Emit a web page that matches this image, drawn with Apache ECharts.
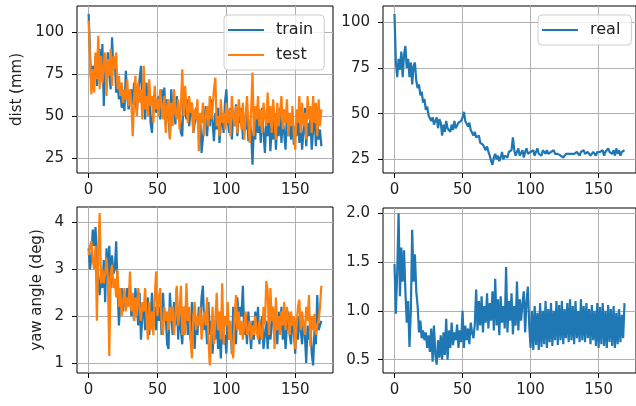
<!DOCTYPE html>
<html>
<head>
<meta charset="utf-8">
<script src="https://cdn.jsdelivr.net/npm/echarts@6/dist/echarts.min.js"></script>
<style>
  html, body { margin: 0; padding: 0; background: #fff; }
  #main { width: 636px; height: 406px; }
</style>
</head>
<body>
<div id="main"></div>
<script>
// tick labels
const xTicks = [0, 50, 100, 150];
const distTicks = [25, 50, 75, 100];
const yawTicks = [1, 2, 3, 4];
const realYawTicks = [0.5, 1.0, 1.5, 2.0];

// dist (mm), one value per step 0..169
const trainDist = [
  111, 88, 66, 80, 72, 86, 68, 78, 90, 74,
  93, 56, 82, 70, 88, 75, 66, 97, 78, 84,
  64, 70, 60, 66, 55, 58, 53, 77, 62, 54,
  55, 66, 57, 70, 60, 52, 64, 72, 80, 56,
  62, 48, 70, 55, 66, 46, 40, 58, 64, 52,
  57, 62, 48, 66, 55, 67, 44, 60, 50, 37,
  66, 52, 58, 45, 62, 50, 55, 40, 38, 64,
  55, 48, 60, 44, 52, 58, 40, 46, 55, 48,
  42, 50, 28, 27, 46, 56, 38, 50, 44, 60,
  46, 35, 52, 42, 55, 34, 45, 50, 40, 58,
  66, 48, 40, 55, 36, 52, 44, 57, 38, 50,
  46, 55, 36, 48, 42, 52, 35, 47, 40, 21,
  44, 36, 52, 40, 48, 34, 55, 40, 28, 46,
  38, 50, 29, 44, 36, 52, 30, 46, 38, 55,
  34, 48, 40, 30, 52, 38, 45, 36, 50, 33,
  44, 38, 52, 34, 46, 30, 40, 55, 32, 46,
  38, 48, 30, 42, 54, 32, 46, 36, 42, 32
];
const testDist = [
  107, 84, 63, 78, 64, 88, 72, 98, 66, 86,
  70, 80, 88, 62, 84, 74, 90, 68, 86, 78,
  88, 66, 74, 62, 70, 58, 66, 60, 72, 56,
  66, 58, 38, 60, 74, 50, 70, 58, 66, 48,
  80, 54, 62, 50, 72, 56, 62, 46, 68, 54,
  60, 50, 66, 56, 48, 62, 40, 56, 60, 36,
  58, 44, 66, 52, 48, 60, 42, 56, 78, 50,
  68, 56, 46, 62, 52, 58, 40, 54, 48, 60,
  29, 52, 46, 58, 38, 50, 56, 44, 62, 48,
  54, 66, 73, 44, 50, 38, 60, 46, 52, 42,
  58, 46, 54, 38, 62, 50, 44, 56, 40, 60,
  52, 42, 58, 36, 50, 62, 46, 34, 54, 76,
  38, 56, 48, 62, 44, 54, 40, 58, 50, 44,
  64, 46, 56, 40, 60, 48, 36, 58, 44, 52,
  62, 42, 54, 46, 60, 38, 52, 44, 56, 40,
  30, 54, 46, 62, 40, 58, 44, 52, 36, 62,
  48, 56, 40, 62, 46, 58, 38, 60, 44, 54
];
const realDist = [
  104.5, 78, 70, 80, 74, 84, 70, 82, 87, 75,
  80, 70, 78, 66, 76, 78, 68, 64, 66, 60,
  62, 56, 58, 52, 54, 49, 50, 46, 48, 44,
  46, 48, 42, 47, 45, 38, 44, 40, 46, 42,
  43, 40, 44, 41, 46, 42, 43, 45, 44, 46,
  48, 51, 46, 47, 43, 45, 41, 42, 38, 40,
  37, 36, 38, 34, 35, 33, 34, 30, 32, 29,
  27, 24, 22, 26, 28, 25, 27, 24, 26, 29,
  25, 27, 28, 26, 29, 28, 30, 37, 30, 27,
  29, 31, 27, 28, 30, 26, 29, 31, 28, 27,
  29, 28, 30, 27, 29, 31, 28, 29, 27, 30,
  29, 28, 30, 28, 27, 29, 28, 30, 28, 29,
  28, 29, 27, 28, 26, 27, 28, 29, 28, 27,
  28, 29, 28, 27, 29, 28, 27, 29, 28, 30,
  28, 27, 29, 28, 27, 28, 29, 28, 27, 29,
  28, 29, 28, 30, 27, 29, 28, 31, 29, 30,
  28, 30, 27, 31, 28, 30, 27, 29, 28, 30
];

// yaw angle (deg)
const trainYaw = [
  3.45, 3.0, 3.3, 3.85, 3.5, 3.9, 3.2, 2.8, 2.45, 2.9,
  2.6, 3.2, 2.3, 3.45, 2.8, 3.5, 2.6, 3.3, 2.9, 3.0,
  3.6, 2.6, 1.8, 2.3, 2.6, 2.1, 2.5, 2.2, 2.6, 2.3,
  2.65, 2.0, 2.4, 1.9, 2.6, 2.2, 1.8, 2.5, 1.5, 2.0,
  2.3, 1.7, 2.1, 2.4, 1.6, 2.0, 2.5, 1.8, 2.2, 1.7,
  2.4, 1.9, 2.2, 1.6, 2.5, 1.9, 2.0, 1.4, 1.3, 2.5,
  2.0, 1.6, 2.3, 1.8, 2.6, 1.5, 2.1, 1.7, 1.4, 2.2,
  1.8, 2.4, 1.6, 2.0, 1.5, 2.3, 1.9, 1.3, 2.0, 1.6,
  2.2, 1.8, 2.4, 2.65, 1.7, 2.0, 1.4, 2.3, 1.6, 1.9,
  1.2, 1.8, 1.5, 2.1, 1.3, 1.7, 1.1, 1.9, 1.4, 1.6,
  1.2, 2.0, 1.5, 1.8, 1.2, 2.2, 1.7, 1.4, 2.4, 1.8,
  2.2, 2.0, 2.65, 1.6, 1.9, 1.4, 2.1, 1.7, 1.3, 1.9,
  1.5, 2.1, 1.7, 2.2, 1.4, 1.8, 2.0, 1.3, 1.6, 1.9,
  1.3, 2.0, 1.5, 1.8, 2.2, 1.6, 1.9, 1.4, 2.1, 1.7,
  2.2, 1.5, 1.9, 1.3, 1.8, 2.1, 1.6, 1.4, 2.0, 1.7,
  1.2, 1.9, 1.5, 2.0, 1.7, 1.4, 1.9, 1.6, 1.0, 1.8,
  1.5, 1.9, 1.2, 0.95, 1.7, 1.4, 2.45, 1.7, 1.8, 1.9
];
const testYaw = [
  3.3, 3.5, 3.6, 3.2, 3.0, 3.5, 1.9, 3.4, 4.2, 2.7,
  3.0, 2.7, 2.9, 3.25, 2.8, 1.15, 2.9, 3.1, 2.6, 2.8,
  2.4, 3.0, 2.2, 2.6, 2.0, 2.3, 2.6, 2.1, 2.4, 2.2,
  2.95, 2.1, 2.5, 1.9, 2.4, 2.0, 2.6, 2.2, 1.9, 2.3,
  2.1, 2.6, 2.0, 1.5, 2.3, 1.7, 2.1, 1.6, 2.4, 2.95,
  2.0, 2.4, 2.6, 1.8, 1.6, 2.2, 1.9, 2.1, 1.7, 2.2,
  1.9, 2.2, 1.6, 2.0, 2.65, 1.8, 2.1, 2.65, 1.6, 2.2,
  1.6, 2.7, 1.9, 2.2, 1.5, 1.1, 2.0, 2.3, 1.7, 2.0,
  1.8, 2.2, 1.5, 1.9, 2.1, 1.8, 2.4, 1.5, 0.95, 1.6,
  2.2, 1.4, 1.9, 2.5, 1.7, 2.1, 1.5, 2.7, 1.4, 2.0,
  1.8, 2.3, 1.5, 1.9, 1.3, 1.1, 2.0, 2.45, 1.7, 2.1,
  1.6, 1.9, 1.5, 1.8, 2.1, 1.6, 1.7, 1.9, 1.5, 1.8,
  1.6, 2.0, 1.7, 1.5, 1.9, 1.6, 1.5, 2.2, 1.8, 2.75,
  2.55, 1.6, 2.6, 1.9, 2.2, 1.3, 2.4, 1.7, 2.0, 1.6,
  2.1, 1.8, 2.3, 1.7, 2.2, 1.9, 1.6, 2.1, 1.8, 2.0,
  1.3, 1.8, 2.2, 2.35, 1.7, 2.1, 1.8, 1.6, 2.2, 1.9,
  2.45, 1.35, 2.0, 1.7, 2.05, 1.6, 1.8, 1.9, 2.2, 2.65
];
const realYaw = [
  1.48, 0.97, 1.4, 2.0, 1.15, 1.65, 1.3, 1.62, 1.2, 0.88,
  1.1, 0.63, 1.0, 1.83, 1.3, 1.58, 1.2, 1.05, 0.78, 0.9,
  0.72, 0.8, 0.7, 0.78, 0.62, 0.75, 0.58, 0.82, 0.48, 0.85,
  0.55, 0.45, 0.7, 0.52, 0.75, 0.5, 0.78, 0.55, 0.92, 0.5,
  0.8, 0.62, 0.88, 0.65, 0.78, 0.7, 0.86, 0.62, 0.8, 0.68,
  1.0, 0.62, 0.85, 0.7, 0.82, 0.66, 0.88, 0.78, 0.72, 0.86,
  1.22, 0.8, 1.1, 0.85, 1.15, 0.78, 1.05, 0.88, 1.18, 0.82,
  1.08, 0.9, 1.2, 0.8, 1.33, 0.85, 1.12, 0.75, 1.15, 0.88,
  1.05, 0.82, 1.45, 0.78, 1.1, 0.9, 1.18, 0.76, 1.05, 0.85,
  1.3, 0.8, 1.12, 0.9, 1.08, 1.2, 0.78, 1.1, 1.25, 0.85,
  0.62, 1.0, 0.6, 1.05, 0.65, 0.98, 0.6, 1.08, 0.63, 1.0,
  0.66, 1.1, 0.62, 1.02, 0.68, 1.08, 0.64, 1.0, 0.7, 1.1,
  0.65, 1.06, 0.7, 1.1, 0.66, 1.02, 0.72, 1.08, 0.68, 1.12,
  0.7, 1.05, 0.66, 1.1, 0.72, 1.0, 0.68, 1.12, 0.7, 1.05,
  0.68, 1.08, 0.72, 1.02, 0.66, 1.06, 0.7, 1.0, 0.64, 1.08,
  0.62, 1.04, 0.66, 1.08, 0.64, 1.0, 0.62, 1.06, 0.68, 1.02,
  0.64, 1.05, 0.62, 0.98, 0.66, 1.02, 0.68, 0.96, 0.72, 1.08
];

const BLUE = '#1f77b4';
const ORANGE = '#ff7f0e';
const FONT = 'DejaVu Sans';
const TEXT = '#222';

const toPoints = arr => arr.map((v, i) => [i, v]);

function makeX(gridIndex) {
  return {
    type: 'value',
    gridIndex,
    min: -8.45,
    max: 177.45,
    axisLine: { show: false, onZero: false },
    axisTick: { show: true, length: 5, customValues: xTicks, lineStyle: { color: '#000', width: 1 } },
    axisLabel: { customValues: xTicks, margin: 10, color: TEXT, fontSize: 15, fontFamily: FONT },
    splitLine: { show: true, lineStyle: { color: '#b0b0b0', width: 1 } }
  };
}

function makeY(gridIndex, min, max, ticks, name, nameGap, fmt) {
  return {
    type: 'value',
    gridIndex,
    min,
    max,
    name,
    nameLocation: 'middle',
    nameGap,
    nameTextStyle: { color: TEXT, fontSize: 15, fontFamily: FONT },
    axisLine: { show: false, onZero: false },
    axisTick: { show: true, length: 5, customValues: ticks, lineStyle: { color: '#000', width: 1 } },
    axisLabel: { customValues: ticks, margin: 13, color: TEXT, fontSize: 15, fontFamily: FONT, formatter: fmt },
    splitLine: { show: true, lineStyle: { color: '#b0b0b0', width: 1 } }
  };
}

function makeLine(name, data, color, idx) {
  return {
    name,
    type: 'line',
    xAxisIndex: idx,
    yAxisIndex: idx,
    data: toPoints(data),
    showSymbol: false,
    symbol: 'none',
    lineStyle: { color, width: 2.2 },
    itemStyle: { color },
    clip: true
  };
}

const legendBox = {
  orient: 'vertical',
  icon: 'rect',
  itemWidth: 36,
  itemHeight: 2,
  itemGap: 7,
  backgroundColor: 'rgba(255,255,255,0.8)',
  borderColor: '#cccccc',
  borderWidth: 1,
  borderRadius: 4,
  padding: [6, 11, 6, 4],
  textStyle: { color: TEXT, fontSize: 16, fontFamily: FONT, lineHeight: 18, padding: [0, 0, 0, 7] }
};

const chart = echarts.init(document.getElementById('main'), null, { renderer: 'canvas' });

chart.setOption({
  animation: false,
  backgroundColor: '#fff',
  grid: [
    { left: 77, top: 6, width: 256, height: 167, show: true, borderColor: '#000', borderWidth: 1, backgroundColor: 'transparent' },
    { left: 383, top: 6, width: 257, height: 167, show: true, borderColor: '#000', borderWidth: 1, backgroundColor: 'transparent' },
    { left: 77, top: 207, width: 256, height: 166, show: true, borderColor: '#000', borderWidth: 1, backgroundColor: 'transparent' },
    { left: 383, top: 208, width: 257, height: 165, show: true, borderColor: '#000', borderWidth: 1, backgroundColor: 'transparent' }
  ],
  xAxis: [makeX(0), makeX(1), makeX(2), makeX(3)],
  yAxis: [
    makeY(0, 16.05, 115.7, distTicks, 'dist (mm)', 52),
    makeY(1, 17.5, 108.9, distTicks, '', 40),
    makeY(2, 0.787, 4.33, yawTicks, 'yaw angle (deg)', 32),
    makeY(3, 0.364, 2.054, realYawTicks, '', 40, v => v.toFixed(1))
  ],
  legend: [
    Object.assign({}, legendBox, { data: ['train', 'test'], left: 224, top: 15 }),
    Object.assign({}, legendBox, { data: ['real'], left: 538, top: 15 })
  ],
  series: [
    makeLine('train', trainDist, BLUE, 0),
    makeLine('test', testDist, ORANGE, 0),
    makeLine('real', realDist, BLUE, 1),
    makeLine('train', trainYaw, BLUE, 2),
    makeLine('test', testYaw, ORANGE, 2),
    makeLine('real', realYaw, BLUE, 3)
  ]
});
</script>
</body>
</html>
